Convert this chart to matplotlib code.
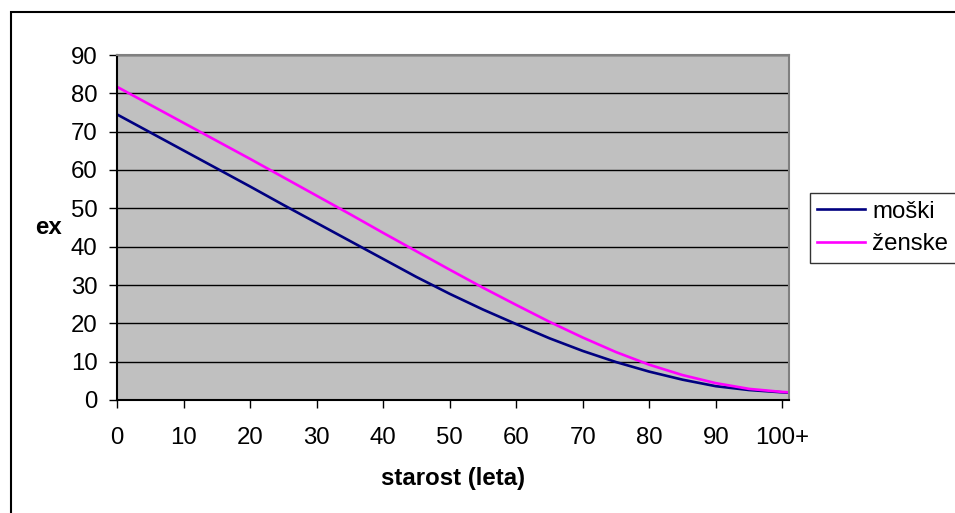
import matplotlib
matplotlib.use("Agg")
import matplotlib.pyplot as plt
from matplotlib.patches import Rectangle

plt.rcParams['font.family'] = ['Liberation Sans', 'DejaVu Sans']

# starost (leta) in pričakovano trajanje življenja ex
ages = [0, 5, 10, 15, 20, 25, 30, 35, 40, 45, 50, 55, 60, 65, 70, 75, 80, 85, 90, 95, 100, 101]
moski = [74.5, 69.8, 65.1, 60.4, 55.7, 50.9, 46.2, 41.5, 36.8, 32.1, 27.7, 23.6, 19.8, 16.1,
         12.8, 9.9, 7.4, 5.3, 3.6, 2.6, 2.0, 1.9]
zenske = [81.7, 77.0, 72.3, 67.6, 62.9, 58.1, 53.3, 48.5, 43.6, 38.8, 34.0, 29.3, 24.8, 20.4,
          16.3, 12.5, 9.2, 6.5, 4.4, 2.9, 2.1, 2.0]

xticks = [0, 10, 20, 30, 40, 50, 60, 70, 80, 90, 100]
xticklabels = ['0', '10', '20', '30', '40', '50', '60', '70', '80', '90', '100+']
yticks = [0, 10, 20, 30, 40, 50, 60, 70, 80, 90]

fs = 17.3

fig = plt.figure(figsize=(9.55, 5.13), dpi=100)
ax = fig.add_axes([117/955, 1 - 400/513, (789 - 117)/955, (400 - 55)/513])
ax.set_facecolor('#C0C0C0')

# okvir okoli celega grafa
fig.patches.append(Rectangle((11/955, -0.02), 1.0, 1 - 12/513 + 0.02, transform=fig.transFigure,
                             fill=False, edgecolor='black', linewidth=1.5))

ax.plot(ages, moski, color='#000080', linewidth=1.9, label='moški')
ax.plot(ages, zenske, color='#FF00FF', linewidth=1.9, label='ženske')

ax.set_xlim(0, 101)
ax.set_ylim(0, 90)
ax.set_xticks(xticks)
ax.set_xticklabels(xticklabels)
ax.set_yticks(yticks)
ax.grid(axis='y', color='black', linewidth=1.0)
ax.set_axisbelow(True)

ax.tick_params(axis='x', direction='out', length=5.5, width=1, pad=14, labelsize=fs)
ax.tick_params(axis='y', direction='out', length=6, width=1, pad=8, labelsize=fs)

for side in ['left', 'bottom']:
    ax.spines[side].set_color('black')
    ax.spines[side].set_linewidth(1.5)
for side in ['top', 'right']:
    ax.spines[side].set_color('#808080')
    ax.spines[side].set_linewidth(1.5)

ax.set_xlabel('starost (leta)', fontsize=fs, fontweight='bold', labelpad=13)
fig.text(49/955, 1 - 228/513, 'ex', fontsize=fs, fontweight='bold', ha='center', va='center')

leg = fig.legend(loc='center left', bbox_to_anchor=(810/955, 1 - 228/513), fontsize=fs,
                 frameon=True, fancybox=False, shadow=False, handlelength=2.0,
                 handletextpad=0.3, labelspacing=0.45, borderpad=0.3, borderaxespad=0)
leg.get_frame().set_edgecolor('black')
leg.get_frame().set_linewidth(1.0)

fig.savefig('out.png', dpi=100)
